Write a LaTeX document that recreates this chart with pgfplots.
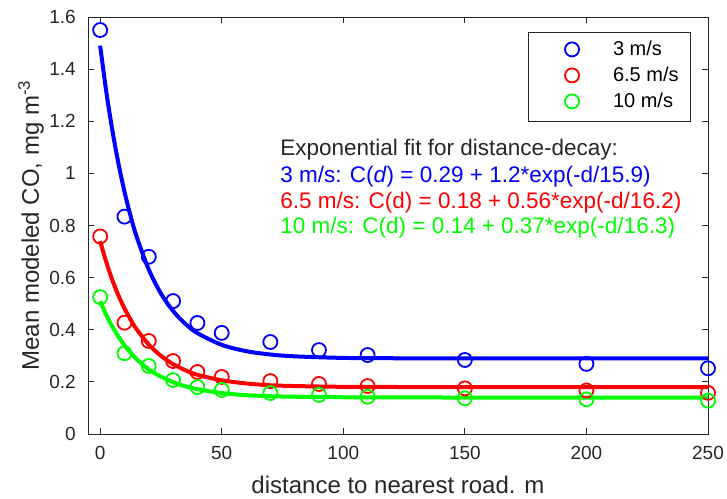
\documentclass[border=0pt]{standalone}
\usepackage{pgfplots}
\pgfplotsset{compat=1.18}
\usepackage{fontspec}
\setmainfont{Liberation Sans}
\definecolor{mblue}{rgb}{0,0,1}
\definecolor{mred}{rgb}{1,0,0}
\definecolor{mgreen}{rgb}{0,1,0}
\definecolor{axgray}{rgb}{0.15,0.15,0.15}
\begin{document}
\begin{tikzpicture}
\useasboundingbox (-88pt,-64pt) rectangle (639pt,434pt);
\begin{axis}[
  at={(0pt,0pt)}, anchor=south west,
  scale only axis, width=620pt, height=417pt,
  xmin=-5, xmax=250, ymin=0, ymax=1.6,
  xtick={0,50,100,150,200,250},
  ytick={0,0.2,0.4,0.6,0.8,1,1.2,1.4,1.6},
  tick align=inside, tick pos=both, major tick length=6pt,
  axis line style={axgray, line width=0.8pt},
  every tick/.style={axgray, line width=0.8pt},
  tick label style={font=\fontsize{19}{19}\selectfont, text=axgray},
  /pgf/number format/assume math mode=true,
  xticklabel style={anchor=base, yshift=-25.5pt, inner sep=0pt},
  yticklabel style={anchor=east, inner sep=0pt, xshift=-12pt},
  xlabel={distance to nearest road. m},
  ylabel={Mean modeled CO, mg m\textsuperscript{-3}},
  label style={font=\fontsize{24}{24}\selectfont, text=axgray},
  xlabel style={at={(axis description cs:0.5,0)}, anchor=base, yshift=-59pt, inner sep=0pt, text depth=0pt},
  ylabel style={at={(axis description cs:-0.0919,0.5)}, anchor=center, inner sep=0pt},
  legend style={at={(axis description cs:1,1)}, anchor=north east, xshift=-17pt, yshift=-15pt,
    draw=axgray, line width=0.8pt, font=\fontsize{20}{20}\selectfont, text=black,
    inner xsep=12pt, inner ysep=9pt, row sep=7pt,
    nodes={inner sep=0pt, text height=14pt, text depth=5pt}},
  legend cell align=left,
  legend image code/.code={\path[draw=none] (-32pt,0pt) -- (41pt,0pt); \path[draw=none,#1] plot coordinates {(0pt,1.5pt)};},
]
\addplot[only marks, mark=o, mark size=7pt, color=mblue, mark options={line width=1.8pt}] coordinates {
(0,1.550)(10,0.834)(20,0.680)(30,0.510)(40,0.426)(50,0.388)(70,0.353)(90,0.322)(110,0.303)(150,0.284)(200,0.269)(250,0.252)};
\addlegendentry{3 m/s}
\addplot[only marks, mark=o, mark size=7pt, color=mred, mark options={line width=1.8pt}] coordinates {
(0,0.758)(10,0.427)(20,0.357)(30,0.280)(40,0.238)(50,0.219)(70,0.203)(90,0.192)(110,0.184)(150,0.175)(200,0.167)(250,0.158)};
\addlegendentry{6.5 m/s}
\addplot[only marks, mark=o, mark size=7pt, color=mgreen, mark options={line width=1.8pt}] coordinates {
(0,0.525)(10,0.310)(20,0.261)(30,0.207)(40,0.180)(50,0.169)(70,0.157)(90,0.150)(110,0.143)(150,0.137)(200,0.133)(250,0.128)};
\addlegendentry{10 m/s}
\addplot[forget plot, no marks, smooth, color=mblue, line width=4pt] coordinates {
(0,1.490)(2.5,1.315)(5,1.166)(7.5,1.039)(10,0.930)(12.5,0.837)(15,0.757)(20,0.631)(25,0.539)(30,0.472)(35,0.423)(40,0.387)(50,0.342)(60,0.318)(70,0.305)(80,0.298)(100,0.292)(125,0.2905)(150,0.290)(200,0.290)(250,0.290)};
\addplot[forget plot, no marks, smooth, color=mred, line width=4pt] coordinates {
(0,0.740)(2.5,0.660)(5,0.591)(7.5,0.532)(10,0.482)(12.5,0.439)(15,0.402)(20,0.343)(25,0.300)(30,0.268)(35,0.245)(40,0.227)(50,0.206)(60,0.194)(70,0.187)(80,0.184)(100,0.181)(125,0.1803)(150,0.180)(200,0.180)(250,0.180)};
\addplot[forget plot, no marks, smooth, color=mgreen, line width=4pt] coordinates {
(0,0.510)(2.5,0.457)(5,0.412)(7.5,0.374)(10,0.340)(12.5,0.312)(15,0.287)(20,0.248)(25,0.220)(30,0.199)(35,0.183)(40,0.172)(50,0.157)(60,0.149)(70,0.145)(80,0.143)(100,0.141)(125,0.1403)(150,0.140)(200,0.140)(250,0.140)};
\node[anchor=base west, inner sep=0pt, font=\fontsize{22.5}{22.5}\selectfont, text=axgray] at (axis cs:74,1.0667) {Exponential fit for distance-decay:};
\node[anchor=base west, inner sep=0pt, font=\fontsize{22.5}{22.5}\selectfont, text=mblue] at (axis cs:74,0.9669) {3 m/s: C(\textit{d}) = 0.29 + 1.2*exp(-d/15.9)};
\node[anchor=base west, inner sep=0pt, font=\fontsize{22.5}{22.5}\selectfont, text=mred] at (axis cs:74,0.8671) {6.5 m/s: C(d) = 0.18 + 0.56*exp(-d/16.2)};
\node[anchor=base west, inner sep=0pt, font=\fontsize{22.5}{22.5}\selectfont, text=mgreen] at (axis cs:74,0.7674) {10 m/s: C(d) = 0.14 + 0.37*exp(-d/16.3)};
\end{axis}
\end{tikzpicture}
\end{document}
